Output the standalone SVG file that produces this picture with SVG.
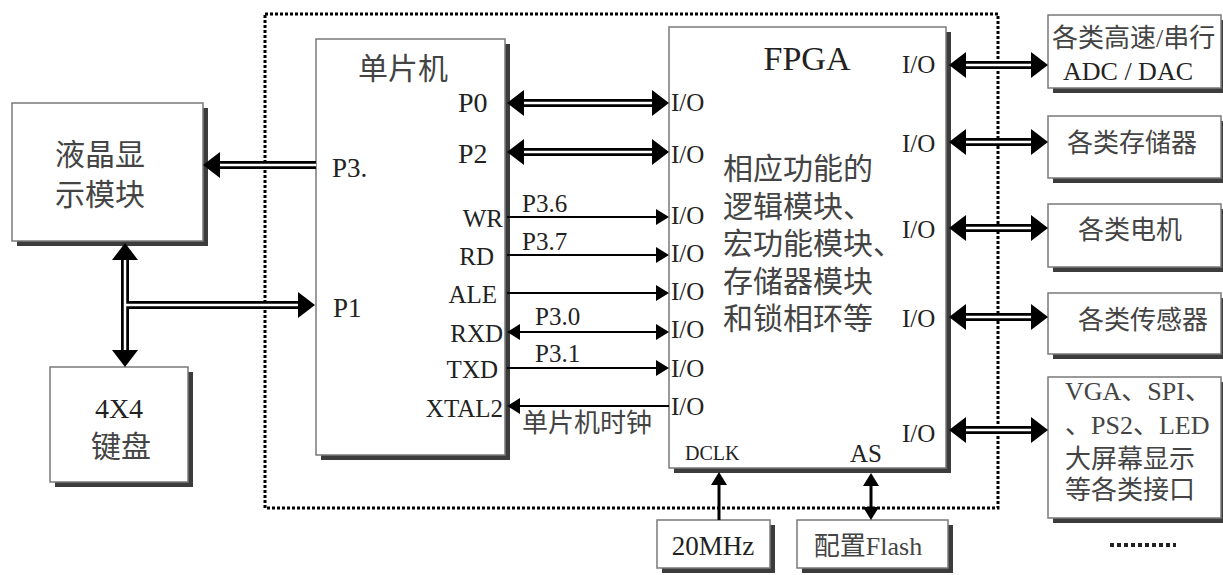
<svg xmlns="http://www.w3.org/2000/svg" width="1223" height="575" viewBox="0 0 1223 575">
<style>
.box{fill:#fff;stroke:#7a7a7a;stroke-width:1.5}
.sh{fill:#3c3c3c}
.t{font-family:"Liberation Serif","Noto Sans CJK SC",serif;fill:#222}
.c{font-family:"Liberation Serif","Noto Sans CJK SC",sans-serif;fill:#444}
.dbo{stroke:#000;stroke-width:8;fill:none}
.dbi{stroke:#fff;stroke-width:2.5;fill:none}
.sl{stroke:#000;stroke-width:2;fill:none}
</style>
<defs>
<marker id="dh" markerUnits="userSpaceOnUse" markerWidth="18" markerHeight="28" viewBox="0 -14 18 28" refX="0" refY="0" orient="auto-start-reverse">
<path d="M0,-13 L17,0 L0,13 z" fill="#000"/>
</marker>
<marker id="sh" markerUnits="userSpaceOnUse" markerWidth="14" markerHeight="18" viewBox="0 -9 14 18" refX="0" refY="0" orient="auto-start-reverse">
<path d="M0,-8 L13,0 L0,8 z" fill="#000"/>
</marker>
</defs>
<rect width="1223" height="575" fill="#fff"/>

<rect id="boundary" x="265" y="14" width="733" height="494" fill="none" stroke="#000" stroke-width="3" stroke-dasharray="3 2"/>

<g id="lcd">
<rect class="sh" x="17" y="108" width="191" height="138"/>
<rect class="box" x="12" y="103" width="191" height="138"/>
<text class="c" x="100" y="165" font-size="30" text-anchor="middle">液晶显</text>
<text class="c" x="100" y="205" font-size="30" text-anchor="middle">示模块</text>
</g>

<g id="keyboard">
<rect class="sh" x="55" y="372" width="138" height="115"/>
<rect class="box" x="50" y="367" width="138" height="115"/>
<text class="t" x="119" y="418" font-size="28" text-anchor="middle">4X4</text>
<text class="c" x="121" y="457" font-size="30" text-anchor="middle">键盘</text>
</g>

<g id="mcu">
<rect class="sh" x="321" y="44" width="189" height="416"/>
<rect class="box" x="316" y="39" width="189" height="416"/>
<text class="c" x="358" y="79" font-size="30">单片机</text>
<text class="t" x="458" y="112" font-size="28">P0</text>
<text class="t" x="458" y="163" font-size="28">P2</text>
<text class="t" x="332" y="177" font-size="27">P3.</text>
<text class="t" x="333" y="317" font-size="27">P1</text>
<g font-size="25" text-anchor="end">
<text class="t" x="503" y="227">WR</text>
<text class="t" x="494" y="265">RD</text>
<text class="t" x="497" y="303">ALE</text>
<text class="t" x="503" y="342">RXD</text>
<text class="t" x="498" y="378">TXD</text>
<text class="t" x="503" y="417">XTAL2</text>
</g>
</g>

<g id="fpga">
<rect class="sh" x="674" y="32" width="277" height="441"/>
<rect class="box" x="669" y="27" width="277" height="441"/>
<text class="t" x="807" y="70" font-size="34" text-anchor="middle">FPGA</text>
<g font-size="25">
<text class="t" x="671" y="111">I/O</text>
<text class="t" x="671" y="163">I/O</text>
<text class="t" x="671" y="224">I/O</text>
<text class="t" x="671" y="262">I/O</text>
<text class="t" x="671" y="300">I/O</text>
<text class="t" x="671" y="338">I/O</text>
<text class="t" x="671" y="377">I/O</text>
<text class="t" x="671" y="415">I/O</text>
<text class="t" x="902" y="73">I/O</text>
<text class="t" x="902" y="152">I/O</text>
<text class="t" x="902" y="238">I/O</text>
<text class="t" x="902" y="327">I/O</text>
<text class="t" x="902" y="442">I/O</text>
</g>
<g font-size="30">
<text class="c" x="723" y="179">相应功能的</text>
<text class="c" x="723" y="217">逻辑模块、</text>
<text class="c" x="723" y="254">宏功能模块、</text>
<text class="c" x="723" y="292">存储器模块</text>
<text class="c" x="723" y="329">和锁相环等</text>
</g>
<text class="t" x="685" y="460" font-size="20">DCLK</text>
<text class="t" x="850" y="462" font-size="25">AS</text>
</g>

<g id="osc">
<rect class="sh" x="662" y="525" width="113" height="48"/>
<rect class="box" x="657" y="520" width="113" height="48"/>
<text class="t" x="713" y="555" font-size="27" text-anchor="middle">20MHz</text>
</g>

<g id="flash">
<rect class="sh" x="802" y="525" width="151" height="48"/>
<rect class="box" x="797" y="520" width="151" height="48"/>
<text class="c" x="868" y="555" font-size="26" text-anchor="middle">配置Flash</text>
</g>

<g id="adc">
<rect class="sh" x="1053" y="20" width="173" height="73"/>
<rect class="box" x="1048" y="15" width="173" height="73"/>
<text class="c" x="1052" y="47" font-size="26">各类高速/串行</text>
<text class="t" x="1063" y="80" font-size="26">ADC / DAC</text>
</g>

<g id="memory">
<rect class="sh" x="1053" y="121" width="173" height="62"/>
<rect class="box" x="1048" y="116" width="173" height="62"/>
<text class="c" x="1067" y="152" font-size="26">各类存储器</text>
</g>

<g id="motor">
<rect class="sh" x="1053" y="209" width="173" height="63"/>
<rect class="box" x="1048" y="204" width="173" height="63"/>
<text class="c" x="1078" y="239" font-size="26">各类电机</text>
</g>

<g id="sensor">
<rect class="sh" x="1053" y="298" width="173" height="61"/>
<rect class="box" x="1048" y="293" width="173" height="61"/>
<text class="c" x="1078" y="329" font-size="26">各类传感器</text>
</g>

<g id="interfaces">
<rect class="sh" x="1053" y="382" width="173" height="141"/>
<rect class="box" x="1048" y="377" width="173" height="141"/>
<g font-size="26">
<text class="c" x="1065" y="400">VGA、SPI、</text>
<text class="c" x="1065" y="434">、PS2、LED</text>
<text class="c" x="1065" y="468">大屏幕显示</text>
<text class="c" x="1065" y="499">等各类接口</text>
</g>
</g>

<g id="more">
<line x1="1110" y1="545" x2="1176" y2="545" stroke="#222" stroke-width="4" stroke-dasharray="4 3"/>
</g>

<g id="connectors">
<g class="dbo">
<path d="M316,165 L220,165" marker-end="url(#dh)"/>
<path d="M125,260 L125,350" marker-start="url(#dh)" marker-end="url(#dh)"/>
<path d="M125,305 L298,305" marker-end="url(#dh)"/>
<path d="M524,103 L652,103" marker-start="url(#dh)" marker-end="url(#dh)"/>
<path d="M524,152 L652,152" marker-start="url(#dh)" marker-end="url(#dh)"/>
<path d="M966,65 L1031,65" marker-start="url(#dh)" marker-end="url(#dh)"/>
<path d="M966,142 L1031,142" marker-start="url(#dh)" marker-end="url(#dh)"/>
<path d="M966,228 L1031,228" marker-start="url(#dh)" marker-end="url(#dh)"/>
<path d="M966,317 L1031,317" marker-start="url(#dh)" marker-end="url(#dh)"/>
<path d="M966,430 L1031,430" marker-start="url(#dh)" marker-end="url(#dh)"/>
</g>
<g class="dbi">
<path d="M316,165 L220,165"/>
<path d="M125,260 L125,350"/>
<path d="M125,305 L298,305"/>
<path d="M524,103 L652,103"/>
<path d="M524,152 L652,152"/>
<path d="M966,65 L1031,65"/>
<path d="M966,142 L1031,142"/>
<path d="M966,228 L1031,228"/>
<path d="M966,317 L1031,317"/>
<path d="M966,430 L1031,430"/>
</g>
<g class="sl">
<path d="M507,217 L656,217" marker-end="url(#sh)"/>
<path d="M507,255 L656,255" marker-end="url(#sh)"/>
<path d="M507,293 L656,293" marker-end="url(#sh)"/>
<path d="M520,332 L656,332" marker-start="url(#sh)" marker-end="url(#sh)"/>
<path d="M507,368 L656,368" marker-end="url(#sh)"/>
<path d="M669,406 L520,406" marker-end="url(#sh)"/>
<path d="M719,520 L719,485" stroke-width="3" marker-end="url(#sh)"/>
<path d="M871,507 L871,486" stroke-width="3" marker-start="url(#sh)" marker-end="url(#sh)"/>
</g>
<text class="t" x="522" y="212" font-size="25">P3.6</text>
<text class="t" x="522" y="250" font-size="25">P3.7</text>
<text class="t" x="535" y="325" font-size="25">P3.0</text>
<text class="t" x="535" y="362" font-size="25">P3.1</text>
<text class="c" x="522" y="432" font-size="26">单片机时钟</text>
</g>
</svg>
